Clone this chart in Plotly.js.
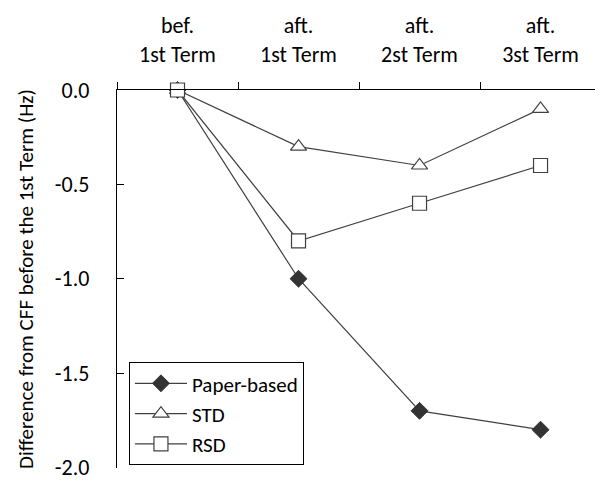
<!DOCTYPE html>
<html>
<head>
<meta charset="utf-8">
<script src="https://cdn.plot.ly/plotly-3.0.1.min.js"></script>
<style>html,body{margin:0;padding:0;background:#fff;}#chart{width:595px;height:481px;}</style>
</head>
<body>
<div id="chart"></div>
<script>
const categories = ["bef.<br>1st Term", "aft.<br>1st Term", "aft.<br>2st Term", "aft.<br>3st Term"];
const paperBased = [0, -1.0, -1.7, -1.8];
const stdValues = [0, -0.3, -0.4, -0.1];
const rsdValues = [0, -0.8, -0.6, -0.4];
const yTicks = [0, -0.5, -1.0, -1.5, -2.0];
const yTickText = ["0.0", "-0.5", "-1.0", "-1.5", "-2.0"];

const FONT = "Carlito, Lato, 'Open Sans', sans-serif";
const lineColor = "#404040";

const traces = [
  {x: categories, y: paperBased, name: "Paper-based", mode: "lines+markers", cliponaxis: false,
   line: {color: lineColor, width: 1.2},
   marker: {symbol: "diamond", size: 13, color: "#333333", line: {color: "#333333", width: 1}}},
  {x: categories, y: stdValues, name: "STD", mode: "lines+markers", cliponaxis: false,
   line: {color: lineColor, width: 1.2},
   marker: {symbol: "triangle-up", size: 14, color: "#ffffff", line: {color: lineColor, width: 1.2}}},
  {x: categories, y: rsdValues, name: "RSD", mode: "lines+markers", cliponaxis: false,
   line: {color: lineColor, width: 1.2},
   marker: {symbol: "square", size: 14, color: "#ffffff", line: {color: lineColor, width: 1.2}}}
];

const layout = {
  width: 595, height: 481,
  margin: {l: 117, r: 0, t: 90, b: 13},
  paper_bgcolor: "#ffffff", plot_bgcolor: "#ffffff",
  font: {family: FONT, size: 22, color: "#000"},
  showlegend: true,
  legend: {x: 0.025, y: 0.28, xanchor: "left", yanchor: "top",
    bordercolor: "#000", borderwidth: 1, bgcolor: "#fff",
    font: {family: FONT, size: 21, color: "#000"}, tracegroupgap: 0,
    itemwidth: 52, entrywidth: 200, entrywidthmode: "pixels"},
  xaxis: {type: "category", side: "top", range: [-0.5, 3.45],
    showline: true, linecolor: "#000", linewidth: 1.5, mirror: false,
    ticks: "outside", ticklen: 7, tickcolor: "#000", tickson: "boundaries",
    ticklabelstandoff: 18,
    showgrid: false, zeroline: false, fixedrange: true,
    tickfont: {family: FONT, size: 22, color: "#000"}},
  yaxis: {range: [-2.003, 0], tickvals: yTicks, ticktext: yTickText,
    showline: true, linecolor: "#000", linewidth: 1.2,
    ticks: "inside", ticklen: 7, tickcolor: "#000", ticklabeloverflow: "allow",
    showgrid: false, zeroline: false, ticklabelstandoff: 22,
    tickfont: {family: FONT, size: 22, color: "#000"},
    title: {text: "Difference from CFF before the 1st Term (Hz)", standoff: 15,
      font: {family: FONT, size: 21, color: "#000"}}}
};

Plotly.newPlot("chart", traces, layout, {displayModeBar: false, staticPlot: true});
</script>
</body>
</html>
